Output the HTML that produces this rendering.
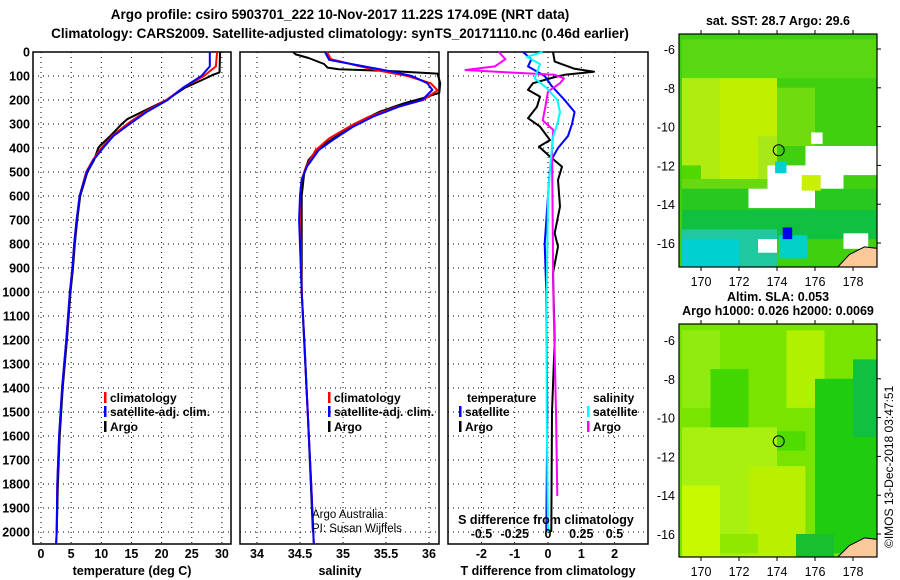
<!DOCTYPE html>
<html><head><meta charset="utf-8"><style>
body{margin:0;background:#fff}
svg{display:block;font-family:"Liberation Sans",sans-serif;font-weight:bold}
</style></head><body>
<svg id="c" width="900" height="580" viewBox="0 0 900 580">
<defs>
<clipPath id="clipTop"><rect x="679" y="34" width="198" height="233"/></clipPath>
<clipPath id="clipBot"><rect x="679" y="324" width="198" height="233"/></clipPath>
</defs>
<text x="340" y="19" text-anchor="middle" font-size="13.5">Argo profile: csiro 5903701_222 10-Nov-2017 11.22S 174.09E (NRT data)</text>
<text x="340" y="38" text-anchor="middle" font-size="13.5">Climatology: CARS2009. Satellite-adjusted climatology: synTS_20171110.nc (0.46d earlier)</text>
<g id="plots"></g>
<text x="778" y="25" text-anchor="middle" font-size="12.5">sat. SST: 28.7 Argo: 29.6</text>
<text x="778" y="301" text-anchor="middle" font-size="12.5">Altim. SLA: 0.053</text>
<text x="778" y="315" text-anchor="middle" font-size="12.5">Argo h1000: 0.026 h2000: 0.0069</text>
<text transform="translate(893,548) rotate(-90)" font-size="12" font-weight="normal">©IMOS 13-Dec-2018 03:47:51</text>
</svg>
<script>
const NS="http://www.w3.org/2000/svg";
const root=document.getElementById('plots');
function el(t,a,p){const e=document.createElementNS(NS,t);for(const k in a)e.setAttribute(k,a[k]);(p||root).appendChild(e);return e;}
function txt(x,y,s,a,p){const e=el('text',Object.assign({x:x,y:y},a||{}),p);e.textContent=s;return e;}

// ---------- data ----------
const depthTicks=[0,100,200,300,400,500,600,700,800,900,1000,1100,1200,1300,1400,1500,1600,1700,1800,1900,2000];
const tTicks=[0,5,10,15,20,25,30];
const sTicks=[34,34.5,35,35.5,36];
const sTickLabels=["34","34.5","35","35.5","36"];
const dTTicks=[-2,-1,0,1,2];
const dSTicks=[-0.5,-0.25,0,0.25,0.5];
const dSTickLabels=["-0.5","-0.25","0","0.25","0.5"];

const tClimDepth=[0,60,100,150,200,250,300,350,400,450,500,600,700,800,900,1000,1200,1400,1600,1800,2000,2050];
const tClim=[29.2,29,27,23.5,20.8,17.2,14.3,11.8,10,8.6,7.5,6.4,5.9,5.5,5.2,4.8,4.2,3.5,3,2.7,2.6,2.5];
const tSatDepth=[0,60,100,150,200,250,300,350,400,450,500,600,700,800,900,1000,1200,1400,1600,1800,2000,2050];
const tSat=[28,28,26.6,23.5,21,17.5,14.7,12,10.3,8.7,7.6,6.4,5.9,5.5,5.2,4.8,4.2,3.5,3,2.7,2.6,2.5];
const tArgoDepth=[0,85,95,110,150,200,250,280,300,350,390,400,450,500,600,700,800,900,1000,1200,1400,1600,1800,2000];
const tArgo=[29.7,29.6,28.5,27.3,23.8,20.8,16.7,14.3,13.4,11.5,9.8,9.5,8.8,7.7,6.5,6,5.6,5.3,4.9,4.3,3.6,3.1,2.8,2.6];

const sClimDepth=[0,30,60,80,100,130,160,200,230,270,310,360,410,480,530,600,700,1000,1200,1500,1800,2050];
const sClim=[34.81,34.86,35.2,35.45,35.75,36.02,36.1,35.93,35.62,35.3,35.08,34.84,34.68,34.57,34.52,34.5,34.5,34.52,34.55,34.59,34.63,34.66];
const sSatDepth=[0,33,61,80,100,130,158,200,228,269,311,367,408,478,533,600,700,1000,1200,1500,1800,2050];
const sSat=[34.79,34.84,35.26,35.55,35.8,35.98,36.04,35.92,35.65,35.35,35.12,34.88,34.72,34.58,34.52,34.5,34.49,34.52,34.55,34.59,34.63,34.66];
const sArgoDepth=[0,10,25,50,65,72,80,90,130,170,190,215,250,300,350,400,450,500,600,1000,1500,2000];
const sArgo=[34.42,34.45,34.6,34.78,34.82,34.95,35.6,36.1,36.13,36.12,35.95,35.7,35.42,35.13,34.93,34.72,34.6,34.55,34.52,34.52,34.59,34.65];

const dTSatDepth=[0,30,60,100,140,200,250,300,350,400,450,500,600,800,1000,1500,2000];
const dTSat=[-0.75,-0.5,-0.6,-0.1,0.1,0.5,0.8,0.72,0.6,0.3,0.1,0.05,0,-0.1,-0.05,-0.02,-0.05];
const dTArgoDepth=[0,40,70,82,95,102,130,158,186,228,276,311,367,394,436,478,533,644,755,811,922,1200,1500,2000];
const dTArgo=[0.15,0.2,0.8,1.38,0.5,0.27,-0.45,-0.6,-0.24,-0.33,-0.6,-0.24,0.06,-0.27,0.06,0.42,0.3,0.36,0.2,0.3,0.15,0.2,0.12,0.1];
const dSSatDepth=[0,20,50,80,110,150,200,250,300,350,450,600,1000,1500,2000];
const dSSat=[-0.04,-0.16,-0.06,-0.08,-0.1,-0.01,0.07,0.09,0.07,0.04,0.02,0,-0.01,-0.01,0];
const dSArgoDepth=[0,30,60,75,85,95,110,130,165,230,285,325,400,1000,1500,1850];
const dSArgo=[-0.37,-0.32,-0.4,-0.62,-0.3,0.05,0.12,0.09,0,-0.02,-0.04,0.04,0.03,0.04,0.06,0.07];

// ---------- axes ----------
const Y0=52, PY=0.24, BOT=544;
const yD=d=>Y0+d*PY;
const xT=t=>41+6.03*t;
const xS=s=>257+86*(s-34);
const xDT=v=>548+33.3*v;
const xDS=v=>548+133*v;

function panel(name,x0,x1,vticks){
  const g=el('g',{});
  
  
  el('rect',{x:x0,y:Y0,width:x1-x0,height:BOT-Y0,fill:'#fff',stroke:'#000','stroke-width':1.5},g);
  depthTicks.forEach(d=>{el('line',{x1:x0,x2:x1,y1:yD(d),y2:yD(d),stroke:'#000','stroke-dasharray':'1 4','stroke-width':1},g);});
  vticks.forEach(x=>{el('line',{x1:x,x2:x,y1:Y0,y2:BOT,stroke:'#000','stroke-dasharray':'1 4','stroke-width':1},g);});
  return g;
}
function line(g,depths,vals,fx,color,name,w){
  const p=el('polyline',{points:depths.map((d,i)=>fx(vals[i]).toFixed(1)+','+yD(d).toFixed(1)).join(' '),fill:'none',stroke:color,'stroke-width':w||2,'stroke-linejoin':'round'},g);
  
  
}
function legend(g,x,y,color,label,name){
  el('rect',{x:x,y:y-10,width:2.5,height:11,fill:color},g);
  const t=txt(x+6,y,label,{'font-size':12},g);
  
  
}

// panel 1
const p1=panel('temperature-panel',33,231,tTicks.map(xT));
line(p1,tArgoDepth,tArgo,xT,'#000','temp-argo-line');
line(p1,tClimDepth,tClim,xT,'#f00','temp-climatology-line');
line(p1,tSatDepth,tSat,xT,'#00f','temp-satellite-line');
depthTicks.forEach(d=>{const t=txt(30,yD(d)+4.5,String(d),{'text-anchor':'end','font-size':12.5},p1);});
tTicks.forEach(v=>{const t=txt(xT(v),558,String(v),{'text-anchor':'middle','font-size':12.5},p1);});
txt(132,575,'temperature (deg C)',{'text-anchor':'middle','font-size':12.5},p1);
legend(p1,104,402,'#f00','climatology','legend-climatology');
legend(p1,104,416,'#00f','satellite-adj. clim.','legend-satellite');
legend(p1,104,431,'#000','Argo','legend-argo');

// panel 2
const p2=panel('salinity-panel',240,439,sTicks.map(xS));
line(p2,sArgoDepth,sArgo,xS,'#000','sal-argo-line');
line(p2,sClimDepth,sClim,xS,'#f00','sal-climatology-line');
line(p2,sSatDepth,sSat,xS,'#00f','sal-satellite-line');
sTicks.forEach((v,i)=>{const t=txt(xS(v),558,sTickLabels[i],{'text-anchor':'middle','font-size':12.5},p2);});
txt(340,575,'salinity',{'text-anchor':'middle','font-size':12.5},p2);
legend(p2,328,402,'#f00','climatology','legend2-climatology');
legend(p2,328,416,'#00f','satellite-adj. clim.','legend2-satellite');
legend(p2,328,431,'#000','Argo','legend2-argo');
txt(312,518,'Argo Australia',{'font-size':11.5,'font-weight':'normal'},p2);
txt(312,532,'PI: Susan Wijffels',{'font-size':11.5,'font-weight':'normal'},p2);

// panel 3
const p3=panel('difference-panel',448,648,dTTicks.map(xDT));
line(p3,dTArgoDepth,dTArgo,xDT,'#000','dT-argo-line');
line(p3,dTSatDepth,dTSat,xDT,'#00f','dT-satellite-line');
line(p3,dSArgoDepth,dSArgo,xDS,'#f0f','dS-argo-line');
line(p3,dSSatDepth,dSSat,xDS,'#0ff','dS-satellite-line');
dTTicks.forEach(v=>{const t=txt(xDT(v),558,String(v),{'text-anchor':'middle','font-size':12.5},p3);});
txt(548,575,'T difference from climatology',{'text-anchor':'middle','font-size':12.5},p3);
txt(546,524,'S difference from climatology',{'text-anchor':'middle','font-size':12.5},p3);
dSTicks.forEach((v,i)=>{const t=txt(xDS(v),538,dSTickLabels[i],{'text-anchor':'middle','font-size':12.5},p3);});
txt(467,402,'temperature',{'font-size':12},p3);
txt(593,402,'salinity',{'font-size':12},p3);
legend(p3,459,416,'#00f','satellite','legend3-temp-sat');
legend(p3,459,431,'#000','Argo','legend3-temp-argo');
legend(p3,587,416,'#0ff','satellite','legend3-sal-sat');
legend(p3,587,431,'#f0f','Argo','legend3-sal-argo');

// ---------- maps ----------
const lonTicks=[170,172,174,176,178];
const latTicks=[-6,-8,-10,-12,-14,-16];
function map(name,top,bot,lat6,blobs,base,clip){
  const g=el('g',{});
  
  
  const X=lon=>701+19*(lon-170), Y=lat=>lat6+19.4*(-6-lat);
  const c=el('g',{'clip-path':'url(#'+clip+')'},g);
  el('rect',{x:679,y:top,width:198,height:bot-top,fill:base},c);
  blobs.forEach(b=>el('rect',{x:X(b[0]),y:Y(b[1]),width:b[2]*19,height:b[3]*19.4,fill:b[4]},c));
  el('path',{d:`M${X(177.2)},${bot} L${X(177.8)},${Y(-16.6)} L${X(178.6)},${Y(-16.2)} L${X(179.5)},${Y(-16.3)} L${X(179.5)},${bot} Z`,fill:'#fbc89a',stroke:'#000','stroke-width':1},c);
  el('circle',{cx:X(174.09),cy:Y(-11.22),r:5.5,fill:'none',stroke:'#000','stroke-width':1},g);
  el('rect',{x:679,y:top,width:198,height:bot-top,fill:'none',stroke:'#000','stroke-width':1.2},g);
  lonTicks.forEach(l=>{el('line',{x1:X(l),x2:X(l),y1:top,y2:top-4,stroke:'#000'},g);el('line',{x1:X(l),x2:X(l),y1:bot,y2:bot+4,stroke:'#000'},g);const t=txt(X(l),bot+19,String(l),{'text-anchor':'middle','font-size':12.5,'font-weight':'normal'},g);});
  latTicks.forEach(l=>{el('line',{x1:877,x2:881,y1:Y(l),y2:Y(l),stroke:'#000'},g);const t=txt(675,Y(l)+5,String(l),{'text-anchor':'end','font-size':12.5,'font-weight':'normal'},g);});
}
map('sst-map',34,267,49,[
 [169,-5.5,10.5,2,'#58d810'],[169,-7.5,2,6,'#b0ec10'],[171,-7.5,3,6,'#c0f000'],[174,-8,2,3,'#70dc10'],[173,-10.5,1,2.5,'#a8e818'],
 [169,-12,1,1,'#50d800'],[169,-12.7,5,0.8,'#68d810'],
 [169,-13.2,11,1.2,'#28c820'],[169,-14.3,11,1.5,'#10c040'],[169,-15.3,5,3,'#20c8a0'],[169,-15.8,3,2.5,'#00d0d0'],
 [173.5,-12,2.5,1.5,'#fff'],[175.5,-11,4,1.5,'#fff'],[172.5,-13.2,3.5,1,'#fff'],[175,-12.2,2.5,1,'#fff'],
 [175.3,-12.5,1,0.8,'#c8f000'],[174.1,-15.6,1.5,1.2,'#00d0c8'],[177.5,-15.5,1.3,0.8,'#fff'],
 [173,-15.8,1,0.7,'#fff'],[173.9,-11.8,0.6,0.6,'#00d0d0'],[174.3,-15.2,0.5,0.6,'#0000f0'],[175.8,-10.3,0.6,0.6,'#fff']
],'#40d010','clipTop');
map('sla-map',324,557,340,[
 [169,-5.5,2,4,'#90ec10'],[169,-10.5,5,7,'#a8f010'],[169,-13.5,2,4,'#c8f800'],[172.5,-12.5,3,5,'#b8f000'],
 [170.5,-7.5,2,3,'#40d800'],[174.5,-5.5,2,4,'#b0f000'],[176,-8,3.5,9,'#20cc10'],[178,-7,1.5,4,'#10c040'],
 [174,-10.7,1.5,1,'#50dc00'],[175,-16,2,1.3,'#18c030'],[171,-16,2,1,'#90e800']
],'#78e400','clipBot');
</script>
</body></html>
